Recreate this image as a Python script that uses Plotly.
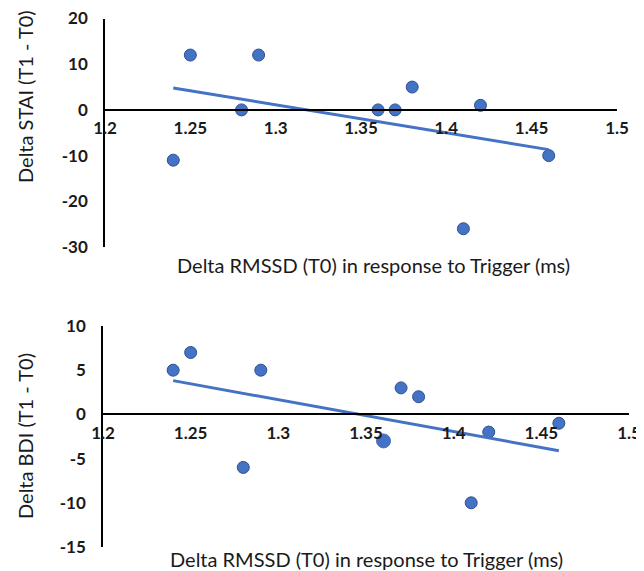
import numpy as np
import plotly.graph_objects as go

# Data
rmssd_top = [1.24, 1.25, 1.28, 1.29, 1.36, 1.37, 1.38, 1.42, 1.41, 1.46]
stai = [-11, 12, 0, 12, 0, 0, 5, 1, -26, -10]
rmssd_bot = [1.24, 1.25, 1.28, 1.29, 1.36, 1.37, 1.38, 1.42, 1.41, 1.46]
bdi = [5, 7, -6, 5, -3, 3, 2, -2, -10, -1]
x_ticks = [1.2, 1.25, 1.3, 1.35, 1.4, 1.45, 1.5]
y_ticks_top = [20, 10, 0, -10, -20, -30]
y_ticks_bot = [10, 5, 0, -5, -10, -15]

OFF = 8  # default page body margin
W, H = 644 - OFF, 571 - OFF
BLUE = "#4472C4"
EDGE = "#2F528F"
FONT = "Lato"


def px(v):
    return (v - OFF) / W


def py(v):
    return 1 - (v - OFF) / H


top_xdom = [px(105), px(617)]
top_ydom = [py(247), py(18.5)]
bot_xdom = [px(103), px(629)]
bot_ydom = [py(547), py(326)]
top_yr = [-30, 20]
bot_yr = [-15, 10]


def zero_pos(dom, rng):
    return dom[0] + (0 - rng[0]) / (rng[1] - rng[0]) * (dom[1] - dom[0])


fig = go.Figure()


def add_panel(x, y, xa, ya, sizes=None, lcolors=None):
    fig.add_trace(go.Scatter(
        x=x, y=y, mode="markers", xaxis=xa, yaxis=ya, cliponaxis=False,
        marker=dict(color=BLUE, size=sizes if sizes else 12, opacity=1,
                    line=dict(color=lcolors if lcolors else EDGE, width=1)),
        showlegend=False))
    b, a = np.polyfit(x, y, 1)
    xs = np.array([min(x), max(x)])
    fig.add_trace(go.Scatter(
        x=xs, y=a + b * xs, mode="lines", xaxis=xa, yaxis=ya,
        line=dict(color=BLUE, width=3), showlegend=False))


add_panel(rmssd_top, stai, "x", "y")
sizes_bot = [12, 12, 12, 12, 14, 12, 12, 12, 12, 12]
lcol_bot = [EDGE, EDGE, EDGE, EDGE, BLUE, EDGE, EDGE, EDGE, EDGE, EDGE]
add_panel(rmssd_bot, bdi, "x2", "y2", sizes_bot, lcol_bot)

tickfont = dict(family=FONT, size=17, color="#1a1a1a", weight="bold")
xcommon = dict(range=[1.2, 1.5], tickvals=x_ticks,
               ticktext=[f"{v:g}" for v in x_ticks],
               showgrid=False, zeroline=False, showline=True,
               linecolor="black", linewidth=1.5, ticks="", automargin=False,
               ticklabeloverflow="allow",
               tickfont=tickfont, anchor="free", ticklabelstandoff=3)
ycommon = dict(showgrid=False, zeroline=False, showline=True,
               linecolor="black", linewidth=1.5, ticks="", automargin=False,
               ticklabeloverflow="allow",
               tickfont=tickfont, ticklabelstandoff=12)

fig.update_layout(
    width=W, height=H,
    margin=dict(l=0, r=0, t=0, b=0),
    paper_bgcolor="white", plot_bgcolor="white",
    xaxis=dict(domain=top_xdom, position=zero_pos(top_ydom, top_yr), **xcommon),
    yaxis=dict(domain=top_ydom, range=top_yr, tickvals=y_ticks_top,
               ticktext=[str(v) for v in y_ticks_top], anchor="x", **ycommon),
    xaxis2=dict(domain=bot_xdom, position=zero_pos(bot_ydom, bot_yr), **xcommon),
    yaxis2=dict(domain=bot_ydom, range=bot_yr, tickvals=y_ticks_bot,
                ticktext=[str(v) for v in y_ticks_bot], anchor="x2", **ycommon),
)

title_font = dict(family=FONT, size=20, color="#1a1a1a")
ann = dict(xref="paper", yref="paper", showarrow=False, font=title_font,
           xanchor="center", yanchor="middle")
fig.add_annotation(text="Delta STAI (T1 - T0)", textangle=-90, x=px(25), y=py(97), **ann)
fig.add_annotation(text="Delta BDI (T1 - T0)", textangle=-90, x=px(25), y=py(436), **ann)
fig.add_annotation(text="Delta RMSSD (T0) in response to Trigger (ms)",
                   x=px(373), y=py(265), **ann)
fig.add_annotation(text="Delta RMSSD (T0) in response to Trigger (ms)",
                   x=px(366), y=py(559), **ann)

fig.write_html("out.html")
